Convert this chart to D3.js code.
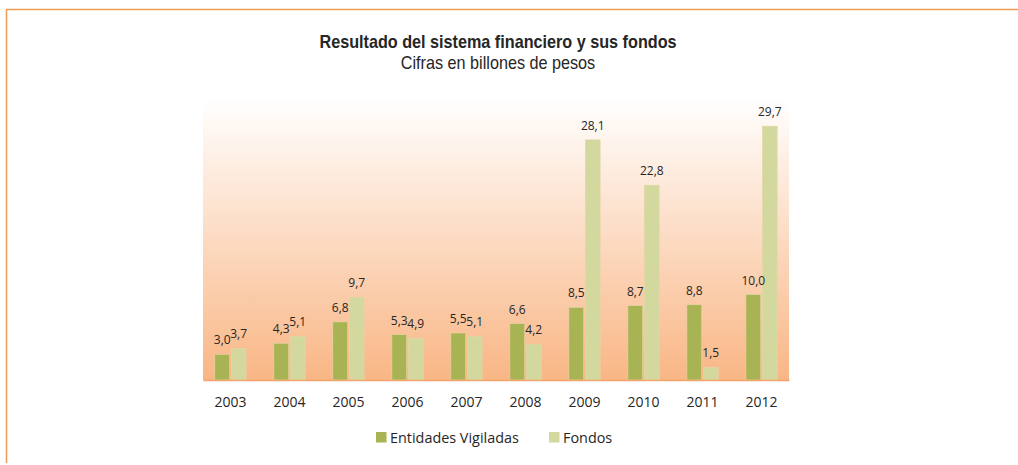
<!DOCTYPE html>
<html lang="es">
<head>
<meta charset="UTF-8">
<title>Resultado del sistema financiero y sus fondos</title>
<script src="https://cdn.jsdelivr.net/npm/d3@7"></script>
<style>
  body { margin: 0; background: #fff; }
  #chart text { fill: #262626; }
  .title { font: bold 18px "Liberation Sans Narrow", "Arial Narrow", "Liberation Sans", sans-serif; }
  .subtitle { font: 18px "Liberation Sans Narrow", "Arial Narrow", "Liberation Sans", sans-serif; }
  .lbl { font: 12px "Open Sans", "Noto Sans", sans-serif; }
  .axisX text { font: 14px "Open Sans", "Noto Sans", sans-serif; }
  .legend text { font: 14.4px "Open Sans", "Noto Sans", sans-serif; }
</style>
</head>
<body>
<div id="chart"></div>
<script>
  var years = ["2003","2004","2005","2006","2007","2008","2009","2010","2011","2012"];
  var entidades = [3.0, 4.3, 6.8, 5.3, 5.5, 6.6, 8.5, 8.7, 8.8, 10.0];
  var fondos = [3.7, 5.1, 9.7, 4.9, 5.1, 4.2, 28.1, 22.8, 1.5, 29.7];
  var seriesNames = ["Entidades Vigiladas", "Fondos"];
  var colors = ["#a8b453", "#d3d89f"];

  var svg = d3.select("#chart").append("svg").attr("width", 1018).attr("height", 465);

  // frame
  svg.append("line").attr("x1", 6).attr("x2", 1018).attr("y1", 9.5).attr("y2", 9.5)
    .attr("stroke", "#ef9a55").attr("stroke-width", 1.5);
  svg.append("line").attr("x1", 6.5).attr("x2", 6.5).attr("y1", 9).attr("y2", 463)
    .attr("stroke", "#ef9a55").attr("stroke-width", 1.5);

  // titles, squeezed a bit to look like a narrow face
  svg.append("text").attr("class", "title").attr("text-anchor", "middle")
    .attr("transform", "translate(498,48) scale(0.9,1)")
    .text("Resultado del sistema financiero y sus fondos");
  svg.append("text").attr("class", "subtitle").attr("text-anchor", "middle")
    .attr("transform", "translate(498,69) scale(0.9,1)")
    .text("Cifras en billones de pesos");

  var mLeft = 203, mTop = 98, w = 586, h = 282;

  var defs = svg.append("defs");
  var grad = defs.append("linearGradient").attr("id", "bg")
    .attr("x1", 0).attr("y1", 0).attr("x2", 0).attr("y2", 1);
  grad.append("stop").attr("offset", "0%").attr("stop-color", "#ffffff");
  grad.append("stop").attr("offset", "100%").attr("stop-color", "#f9b685");

  var g = svg.append("g").attr("transform", "translate(" + mLeft + "," + mTop + ")");
  g.append("rect").attr("width", w).attr("height", h).attr("fill", "url(#bg)");

  var x = d3.scaleBand().domain(years).range([0, w]).paddingInner(0.47).paddingOuter(0.2);
  var x1 = d3.scaleBand().domain(seriesNames).range([0, x.bandwidth()]).paddingInner(0.1);
  var y = d3.scaleLinear().domain([0, 33]).range([h, 0]);

  var rows = years.map(function(d, i) {
    return { year: d, values: [entidades[i], fondos[i]] };
  });

  var grp = g.selectAll(".grp").data(rows).enter().append("g")
    .attr("transform", function(d) { return "translate(" + x(d.year) + ",0)"; });

  grp.selectAll("rect").data(function(d) {
      return d.values.map(function(v, k) { return { k: k, v: v }; });
    }).enter().append("rect")
    .attr("x", function(d) { return x1(seriesNames[d.k]); })
    .attr("y", function(d) { return y(d.v); })
    .attr("width", x1.bandwidth())
    .attr("height", function(d) { return h - y(d.v); })
    .attr("fill", function(d) { return colors[d.k]; })
    .attr("stroke", "#e6d6a6").attr("stroke-width", 0.6);

  grp.selectAll(".lbl").data(function(d) {
      return d.values.map(function(v, k) { return { k: k, v: v }; });
    }).enter().append("text").attr("class", "lbl")
    .attr("text-anchor", "middle")
    .attr("x", function(d) { return x1(seriesNames[d.k]) + x1.bandwidth() / 2; })
    .attr("y", function(d) { return y(d.v) - 10; })
    .text(function(d) { return d3.format(".1f")(d.v).replace(".", ","); });

  var ax = g.append("g").attr("class", "axisX")
    .attr("transform", "translate(0," + h + ")")
    .call(d3.axisBottom(x).tickSize(0).tickPadding(17));
  ax.select(".domain").attr("stroke", "#f4a56b").attr("stroke-width", 1.5);

  var lg = svg.append("g").attr("class", "legend");
  var lx = [376, 549];
  seriesNames.forEach(function(n, i) {
    lg.append("rect").attr("x", lx[i]).attr("y", 432).attr("width", 10.5).attr("height", 10.5)
      .attr("fill", colors[i]);
    lg.append("text").attr("x", lx[i] + 14).attr("y", 442.5).text(n);
  });
</script>
</body>
</html>
